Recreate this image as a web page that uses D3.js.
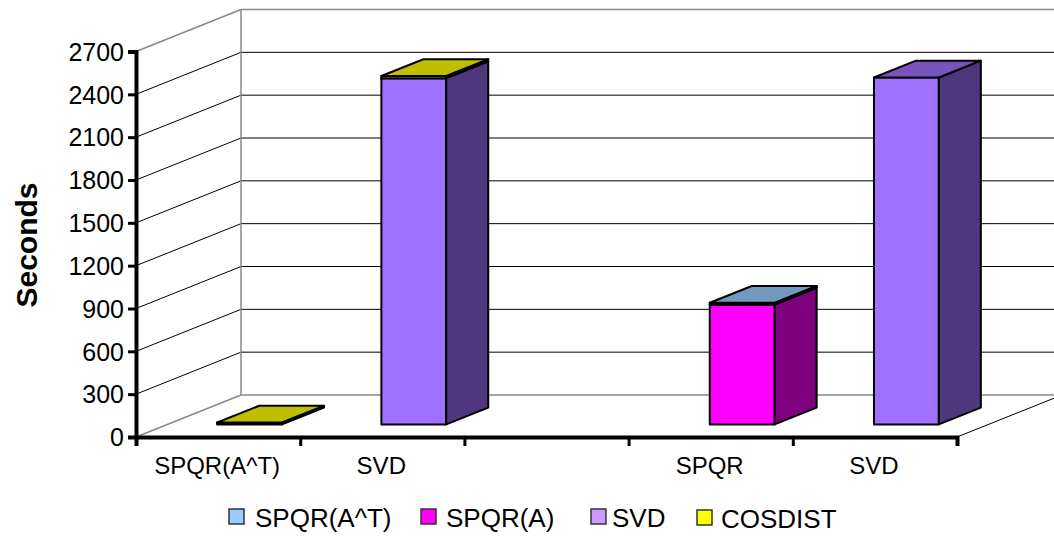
<!DOCTYPE html>
<html>
<head>
<meta charset="utf-8">
<script src="https://cdn.jsdelivr.net/npm/d3@7"></script>
<style>
  html, body { margin: 0; padding: 0; background: #fff; }
  svg { display: block; }
  text { font-family: "Liberation Sans", Arial, sans-serif; fill: #000; }
</style>
</head>
<body>
<svg id="chart" width="1054" height="536"></svg>
<script>
const categories = ["SPQR(A^T)", "SVD", "", "SPQR", "SVD"];
const seriesNames = ["SPQR(A^T)", "SPQR(A)", "SVD", "COSDIST"];
const spqrAT = [6, 0, 0, 12, 0];
const spqrA = [0, 0, 0, 840, 0];
const svd = [0, 2425, 0, 0, 2430];
const cosdist = [7, 15, 0, 0, 0];
const yTicks = [0, 300, 600, 900, 1200, 1500, 1800, 2100, 2400, 2700];

const legendColors = ["#99ccff", "#ff00ff", "#cc99ff", "#ffff00"];
const frontColors = ["#99ccff", "#ff00ff", "#a070ff", "#ffff00"];

const svg = d3.select("#chart");

const margin = { left: 136, right: 957, top: 51.5, bottom: 437 };
const depthX = 105, depthY = 42;

const x = d3.scaleBand().domain(d3.range(categories.length)).range([margin.left, margin.right]);
const y = d3.scaleLinear().domain([0, 2700]).range([margin.bottom, margin.top]);

// project a value + depth (0 = front of floor, 1 = back wall) onto the page
const px = (xv, d) => xv + depthX * d;
const py = (v, d) => y(v) - depthY * d;
const poly = pts => pts.map(p => p.join(",")).join(" ");

// walls and gridlines
const wall = svg.append("g");
const backX = px(margin.left, 1), endX = px(margin.right, 1);
yTicks.forEach(t => {
  const edge = t === 0 || t === 2700;
  const color = edge ? "#888" : "#000";
  const w = edge ? 1.5 : 1;
  wall.append("line").attr("x1", margin.left).attr("y1", y(t)).attr("x2", backX).attr("y2", py(t, 1))
    .attr("stroke", color).attr("stroke-width", w);
  wall.append("line").attr("x1", backX).attr("y1", py(t, 1)).attr("x2", endX).attr("y2", py(t, 1))
    .attr("stroke", color).attr("stroke-width", w);
});
wall.append("line").attr("x1", backX).attr("y1", py(0, 1)).attr("x2", backX).attr("y2", py(2700, 1))
  .attr("stroke", "#888").attr("stroke-width", 1.5);
wall.append("line").attr("x1", margin.right).attr("y1", y(0)).attr("x2", endX).attr("y2", py(0, 1))
  .attr("stroke", "#000").attr("stroke-width", 1);

// stacked 3D bars, lower segments first
const stackRows = categories.map((c, i) => ({ i, at: spqrAT[i], a: spqrA[i], s: svd[i], c: cosdist[i] }));
const stackKeys = ["a", "s", "at", "c"];
const keyIndex = { at: 0, a: 1, s: 2, c: 3 };
const stacked = d3.stack().keys(stackKeys)(stackRows);

const barW = x.bandwidth() * 0.395;
const d0 = 0.3, d1 = 0.7;
const bars = svg.append("g").attr("stroke", "#000").attr("stroke-width", 2).attr("stroke-linejoin", "round");

stacked.forEach(layer => {
  const base = d3.color(frontColors[keyIndex[layer.key]]);
  layer.forEach((seg, i) => {
    if (seg[1] <= seg[0]) return;
    const left = x(i) + (x.bandwidth() - barW) / 2;
    const xa = px(left, d0), xb = px(left + barW, d0);
    const xc = px(left, d1), xd = px(left + barW, d1);
    const yb = py(seg[0], d0), yt = py(seg[1], d0);
    const yb2 = py(seg[0], d1), yt2 = py(seg[1], d1);
    bars.append("polygon").attr("points", poly([[xa, yb], [xb, yb], [xb, yt], [xa, yt]]))
      .attr("fill", base.formatHex());
    bars.append("polygon").attr("points", poly([[xb, yb], [xd, yb2], [xd, yt2], [xb, yt]]))
      .attr("fill", base.darker(2).formatHex());
    bars.append("polygon").attr("points", poly([[xa, yt], [xb, yt], [xd, yt2], [xc, yt2]]))
      .attr("fill", d3.rgb(base.r * 0.75, base.g * 0.75, base.b * 0.75).formatHex());
  });
});

// axes
const yAxis = svg.append("g").attr("transform", `translate(${margin.left},0)`)
  .call(d3.axisLeft(y).tickValues(yTicks).tickFormat(d3.format("d")).tickSize(8).tickPadding(4));
const xAxis = svg.append("g").attr("transform", `translate(0,${margin.bottom})`)
  .call(d3.axisBottom(d3.scaleLinear().domain([0, categories.length]).range([margin.left, margin.right]))
    .tickValues(d3.range(categories.length + 1)).tickFormat("").tickSize(9));
[yAxis, xAxis].forEach(a => {
  a.selectAll("path").attr("stroke", "#000").attr("stroke-width", 4);
  a.selectAll("line").attr("stroke", "#000").attr("stroke-width", 3);
});
yAxis.selectAll("text").style("font-size", "25px").attr("dy", "0.35em");

// category labels
svg.append("g").selectAll("text").data(categories).enter().append("text")
  .attr("x", (d, i) => x(i) + x.bandwidth() / 2 - 1)
  .attr("y", 474)
  .attr("text-anchor", "middle")
  .style("font-size", "24px")
  .text(d => d);

// y title
svg.append("text")
  .attr("transform", "translate(37,245) rotate(-90)")
  .attr("text-anchor", "middle")
  .style("font-size", "30px")
  .style("font-weight", "bold")
  .text("Seconds");

// legend
const legendX = [229, 421, 591, 697];
const legendTextX = [255, 446, 612, 721];
const legend = svg.append("g").selectAll("g").data(seriesNames).enter().append("g")
  .attr("transform", (d, i) => `translate(${legendX[i]},${i === 3 ? 510 : 509})`);
legend.append("rect").attr("width", 15).attr("height", 15)
  .attr("fill", (d, i) => legendColors[i]).attr("stroke", "#333").attr("stroke-width", 1.5);
legend.append("text").attr("x", (d, i) => legendTextX[i] - legendX[i]).attr("y", 18).style("font-size", "26px").text(d => d);
</script>
</body>
</html>
